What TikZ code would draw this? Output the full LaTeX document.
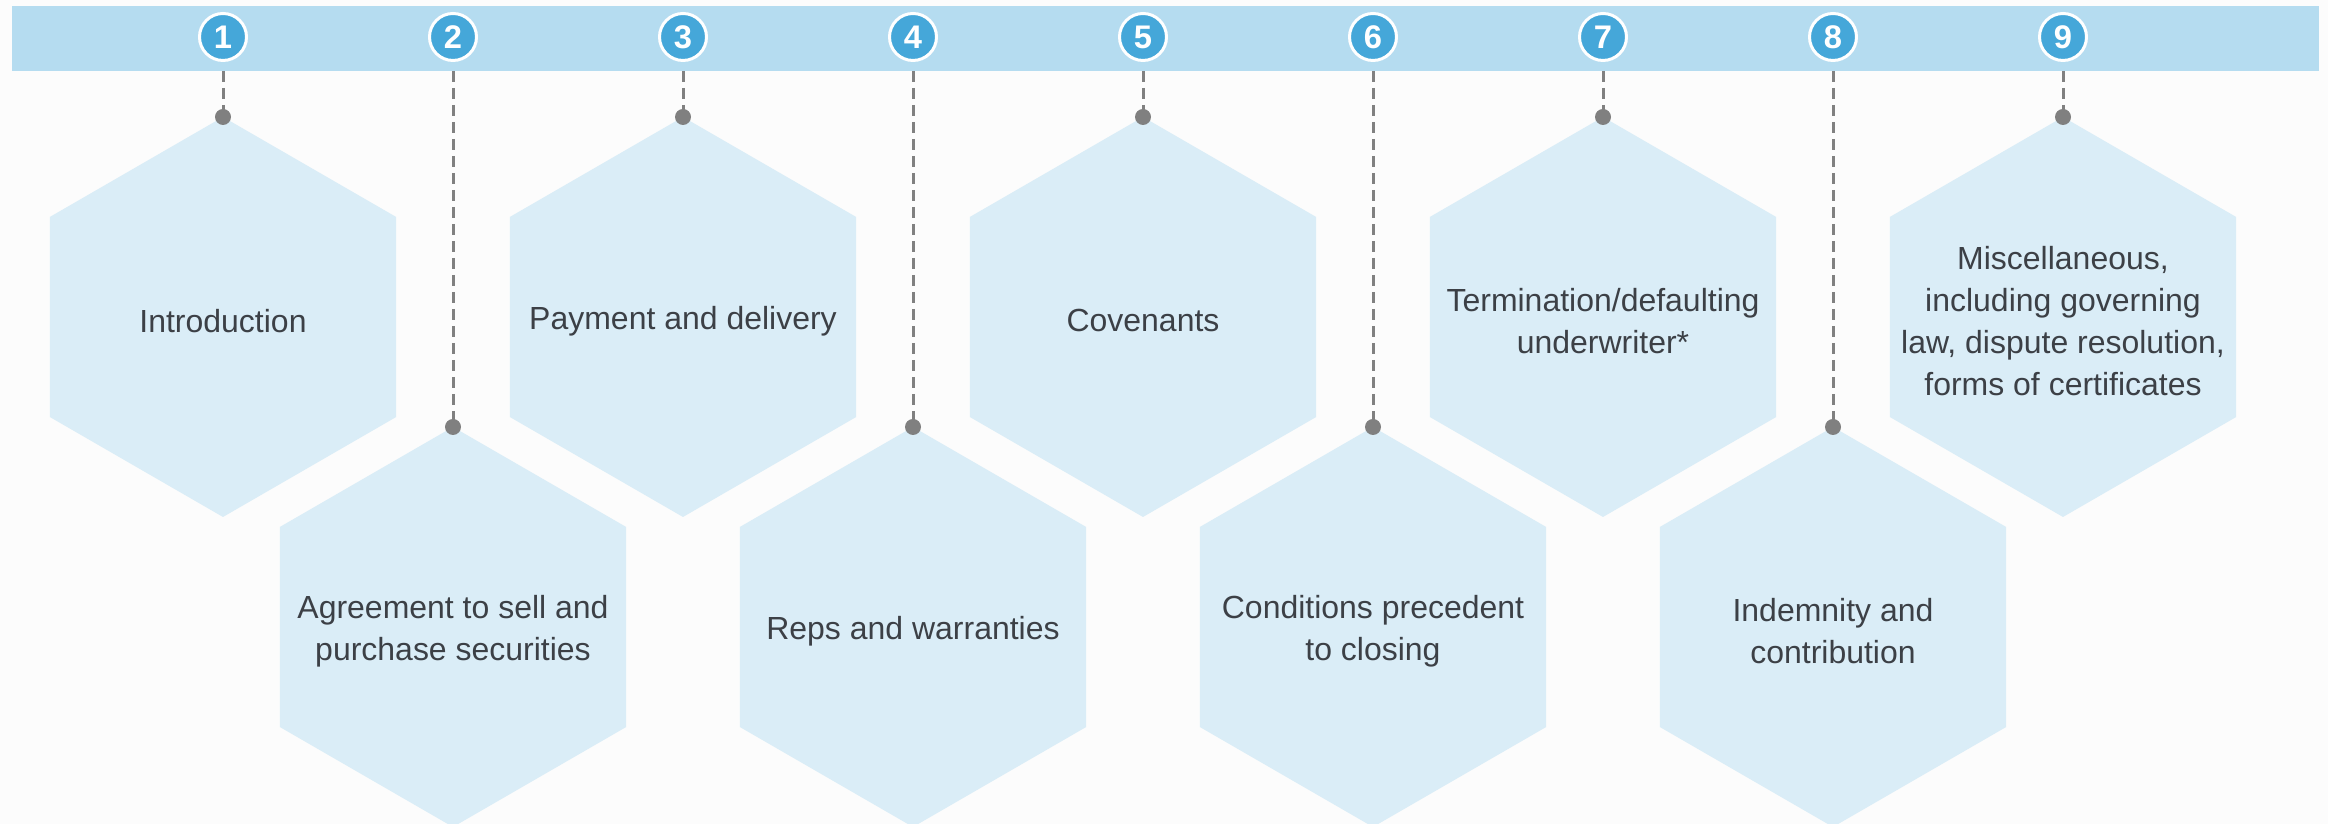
\documentclass[tikz,border=0pt]{standalone}
\usepackage{fontspec}
\setmainfont{Liberation Sans}
\usetikzlibrary{shapes.geometric}

\definecolor{barblue}{RGB}{181,220,240}
\definecolor{hexblue}{RGB}{218,237,247}
\definecolor{numblue}{RGB}{69,167,217}
\definecolor{dotgray}{RGB}{128,128,128}
\definecolor{textgray}{RGB}{60,64,70}
\definecolor{paper}{RGB}{252,252,252}

\tikzset{
  hexagon/.style={regular polygon, regular polygon sides=6, regular polygon rotate=30,
    minimum size=4cm, inner sep=0pt, outer sep=0pt, fill=hexblue},
  hextext/.style={align=center, text=textgray, yshift=-0.04cm,
    font=\fontsize{9.1}{12}\selectfont},
  num/.style={circle, fill=numblue, draw=white, line width=0.03cm, minimum size=0.47cm,
    inner sep=0pt, text=white, font=\fontsize{9.3}{10}\selectfont\bfseries},
  link/.style={draw=dotgray, line width=0.03cm, dash pattern=on 0.11cm off 0.06cm},
}

\begin{document}
\begin{tikzpicture}
\useasboundingbox[fill=paper] (0,0) rectangle (23.28,-8.24);

% hexagons, top row and bottom row
\node[hexagon] (h1) at (2.23,-3.17) {};
\node[hexagon] (h2) at (4.53,-6.27) {};
\node[hexagon] (h3) at (6.83,-3.17) {};
\node[hexagon] (h4) at (9.13,-6.27) {};
\node[hexagon] (h5) at (11.43,-3.17) {};
\node[hexagon] (h6) at (13.73,-6.27) {};
\node[hexagon] (h7) at (16.03,-3.17) {};
\node[hexagon] (h8) at (18.33,-6.27) {};
\node[hexagon] (h9) at (20.63,-3.17) {};

\node[hextext] (t1) at (h1) {Introduction};
\node[hextext] (t2) at (h2) {Agreement to sell and\\purchase securities};
\node[hextext] (t3) at (h3) {Payment and delivery};
\node[hextext] (t4) at (h4) {Reps and warranties};
\node[hextext] (t5) at (h5) {Covenants};
\node[hextext] (t6) at (h6) {Conditions precedent\\to closing};
\node[hextext] (t7) at (h7) {Termination/defaulting\\underwriter*};
\node[hextext] (t8) at (h8) {Indemnity and\\contribution};
\node[hextext] (t9) at (h9) {Miscellaneous,\\including governing\\law, dispute resolution,\\forms of certificates};

% banner
\fill[barblue] (0.12,-0.06) rectangle (23.19,-0.71);
\coordinate (barbottom) at (0.12,-0.71);

\node[num] (n1) at (2.23,-0.37) {1};
\node[num] (n2) at (4.53,-0.37) {2};
\node[num] (n3) at (6.83,-0.37) {3};
\node[num] (n4) at (9.13,-0.37) {4};
\node[num] (n5) at (11.43,-0.37) {5};
\node[num] (n6) at (13.73,-0.37) {6};
\node[num] (n7) at (16.03,-0.37) {7};
\node[num] (n8) at (18.33,-0.37) {8};
\node[num] (n9) at (20.63,-0.37) {9};

% dashed links with dots
\draw[link] (n1 |- barbottom) -- (h1.north);
\draw[link] (n2 |- barbottom) -- (h2.north);
\draw[link] (n3 |- barbottom) -- (h3.north);
\draw[link] (n4 |- barbottom) -- (h4.north);
\draw[link] (n5 |- barbottom) -- (h5.north);
\draw[link] (n6 |- barbottom) -- (h6.north);
\draw[link] (n7 |- barbottom) -- (h7.north);
\draw[link] (n8 |- barbottom) -- (h8.north);
\draw[link] (n9 |- barbottom) -- (h9.north);

\fill[dotgray] (h1.north) circle (0.08);
\fill[dotgray] (h2.north) circle (0.08);
\fill[dotgray] (h3.north) circle (0.08);
\fill[dotgray] (h4.north) circle (0.08);
\fill[dotgray] (h5.north) circle (0.08);
\fill[dotgray] (h6.north) circle (0.08);
\fill[dotgray] (h7.north) circle (0.08);
\fill[dotgray] (h8.north) circle (0.08);
\fill[dotgray] (h9.north) circle (0.08);

\end{tikzpicture}
\end{document}
